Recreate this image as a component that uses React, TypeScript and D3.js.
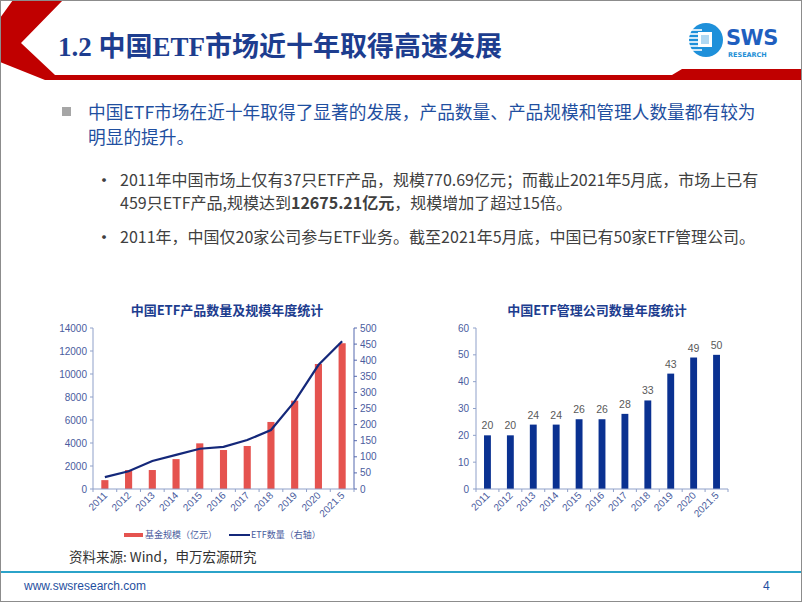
import React from "react";
import * as d3 from "d3";

const years = ["2011", "2012", "2013", "2014", "2015", "2016", "2017", "2018", "2019", "2020", "2021.5"];
const fundSize = [770.69, 1650, 1650, 2600, 3970, 3390, 3740, 5830, 7680, 10870, 12675.21];
const etfCount = [37, 55, 87, 106, 125, 131, 152, 183, 272, 385, 459];
const managerCount = [20, 20, 24, 24, 26, 26, 28, 33, 43, 49, 50];
const leftTicks = [0, 2000, 4000, 6000, 8000, 10000, 12000, 14000];
const rightTicks = [0, 50, 100, 150, 200, 250, 300, 350, 400, 450, 500];
const mgrTicks = [0, 10, 20, 30, 40, 50, 60];

const CJK = "'Noto Sans CJK SC', 'Noto Sans', sans-serif";
const AXIS_TXT = "#4A5C9E";
const AXIS_LINE = "#8FA0C9";

export default function App() {
  // Left chart scales
  const xL = d3.scaleBand<string>().domain(years).range([93, 354]).paddingInner(0.7).paddingOuter(0.35);
  const yL = d3.scaleLinear().domain([0, 14000]).range([489, 328]);
  const yR = d3.scaleLinear().domain([0, 500]).range([489, 328]);
  const stepL = xL.step();
  const line = d3
    .line<number>()
    .x((_, i) => (xL(years[i]) as number) + xL.bandwidth() / 2)
    .y((d) => yR(d));

  // Right chart scales
  const xM = d3.scaleBand<string>().domain(years).range([476, 728]).paddingInner(0.7).paddingOuter(0.35);
  const yM = d3.scaleLinear().domain([0, 60]).range([489, 328]);
  const stepM = xM.step();

  return (
    <svg
      width={802}
      height={602}
      style={{ position: "fixed", left: 0, top: 0, background: "#fff" }}
      fontFamily={CJK}
    >
      <rect x={0} y={0} width={802} height={602} fill="#fff" />
      {/* header */}
      <polygon
        points="13,0 63,0 21,43 55,75 672,75 682,69 802,69 802,80 45,80 0,62 0,18"
        fill="#C00000"
      />
      <text
        x={58}
        y={56}
        fontSize={27}
        fontWeight="bold"
        fill="#1D3D8F"
        fontFamily="'Liberation Serif', 'DejaVu Serif', 'Noto Sans CJK SC', serif"
      >
        1.2 中国ETF市场近十年取得高速发展
      </text>
      {/* logo */}
      <g>
        <circle cx={706} cy={40} r={17} fill="#1E90DA" />
        {[-10, -6, -2, 2, 6, 10].map((dy) => (
          <line key={dy} x1={689} x2={702} y1={40 + dy} y2={40 + dy} stroke="#fff" strokeWidth={1.6} />
        ))}
        <rect x={698} y={32} width={14} height={15} fill="#fff" />
        <rect x={701} y={35} width={8} height={9} fill="#1E90DA" opacity={0.35} />
        <text x={726} y={45} fontSize={21} fontWeight="bold" fill="#1F5FBF" fontFamily="'DejaVu Sans', sans-serif" letterSpacing={-0.5}>
          SWS
        </text>
        <text x={728} y={57} fontSize={6.5} fontWeight="bold" fill="#1E8FD6" fontFamily="'DejaVu Sans', sans-serif">
          RESEARCH
        </text>
      </g>

      {/* bullets */}
      <rect x={62} y={107} width={9} height={9} fill="#A6A6A6" />
      <text x={88} y={119} fontSize={17.7} fill="#1F4FA0">
        中国ETF市场在近十年取得了显著的发展，产品数量、产品规模和管理人数量都有较为
      </text>
      <text x={88} y={144} fontSize={17.7} fill="#1F4FA0">
        明显的提升。
      </text>
      <text x={95} y={187} fontSize={18} fill="#404040">•</text>
      <text x={120} y={186} fontSize={16} fill="#404040">
        2011年中国市场上仅有37只ETF产品，规模770.69亿元；而截止2021年5月底，市场上已有
      </text>
      <text x={120} y={209} fontSize={16} fill="#404040">
        459只ETF产品,规模达到<tspan fontWeight="bold">12675.21亿元</tspan>，规模增加了超过15倍。
      </text>
      <text x={95} y={244} fontSize={18} fill="#404040">•</text>
      <text x={120} y={243} fontSize={16} fill="#404040">
        2011年，中国仅20家公司参与ETF业务。截至2021年5月底，中国已有50家ETF管理公司。
      </text>

      {/* LEFT CHART */}
      <text x={227} y={315} fontSize={13} fontWeight="bold" fill="#1D3D8F" textAnchor="middle">
        中国ETF产品数量及规模年度统计
      </text>
      {years.map((y, i) => (
        <rect
          key={y}
          x={xL(y) as number}
          y={yL(fundSize[i])}
          width={xL.bandwidth()}
          height={yL(0) - yL(fundSize[i])}
          fill="#E5534F"
        />
      ))}
      {/* left axis */}
      <line x1={93} x2={93} y1={328} y2={489} stroke={AXIS_LINE} />
      {leftTicks.map((t) => (
        <g key={t}>
          <line x1={90} x2={93} y1={yL(t)} y2={yL(t)} stroke={AXIS_LINE} />
          <text x={87} y={yL(t) + 3.5} fontSize={10} fill={AXIS_TXT} textAnchor="end" fontFamily="'Liberation Sans', Arial, sans-serif">
            {t}
          </text>
        </g>
      ))}
      {/* right axis */}
      <line x1={354} x2={354} y1={328} y2={489} stroke="#5468AE" />
      {rightTicks.map((t) => (
        <g key={t}>
          <line x1={354} x2={357} y1={yR(t)} y2={yR(t)} stroke="#5468AE" />
          <text x={360} y={yR(t) + 3.5} fontSize={10} fill={AXIS_TXT} fontFamily="'Liberation Sans', Arial, sans-serif">
            {t}
          </text>
        </g>
      ))}
      {/* bottom axis */}
      <line x1={93} x2={354} y1={489} y2={489} stroke={AXIS_LINE} />
      {d3.range(years.length + 1).map((i) => (
        <line key={i} x1={93 + i * stepL} x2={93 + i * stepL} y1={489} y2={492} stroke={AXIS_LINE} />
      ))}
      {years.map((y) => {
        const cx = (xL(y) as number) + xL.bandwidth() / 2 + 3;
        return (
          <text
            key={y}
            transform={`translate(${cx},${496}) rotate(-45)`}
            fontSize={10}
            fill={AXIS_TXT}
            textAnchor="end"
            fontFamily="'Liberation Sans', Arial, sans-serif"
          >
            {y}
          </text>
        );
      })}
      <path d={line(etfCount) as string} fill="none" stroke="#14287A" strokeWidth={2.2} />
      {/* legend */}
      <rect x={124} y={533} width={19} height={4} fill="#E5534F" />
      <text x={145} y={538} fontSize={9} fill={AXIS_TXT}>基金规模（亿元）</text>
      <line x1={229} x2={250} y1={535} y2={535} stroke="#14287A" strokeWidth={2} />
      <text x={251} y={538} fontSize={9} fill={AXIS_TXT}>ETF数量（右轴）</text>

      {/* RIGHT CHART */}
      <text x={597} y={315} fontSize={13} fontWeight="bold" fill="#1D3D8F" textAnchor="middle">
        中国ETF管理公司数量年度统计
      </text>
      {years.map((y, i) => (
        <g key={y}>
          <rect
            x={xM(y) as number}
            y={yM(managerCount[i])}
            width={xM.bandwidth()}
            height={yM(0) - yM(managerCount[i])}
            fill="#0A3191"
          />
          <text
            x={(xM(y) as number) + xM.bandwidth() / 2}
            y={yM(managerCount[i]) - 6}
            fontSize={10.5}
            fill="#595959"
            textAnchor="middle"
            fontFamily="'Liberation Sans', Arial, sans-serif"
          >
            {managerCount[i]}
          </text>
        </g>
      ))}
      <line x1={476} x2={476} y1={328} y2={489} stroke={AXIS_LINE} />
      {mgrTicks.map((t) => (
        <g key={t}>
          <line x1={473} x2={476} y1={yM(t)} y2={yM(t)} stroke={AXIS_LINE} />
          <text x={469} y={yM(t) + 3.5} fontSize={10} fill={AXIS_TXT} textAnchor="end" fontFamily="'Liberation Sans', Arial, sans-serif">
            {t}
          </text>
        </g>
      ))}
      <line x1={476} x2={728} y1={489} y2={489} stroke={AXIS_LINE} />
      {d3.range(years.length + 1).map((i) => (
        <line key={i} x1={476 + i * stepM} x2={476 + i * stepM} y1={489} y2={492} stroke={AXIS_LINE} />
      ))}
      {years.map((y) => {
        const cx = (xM(y) as number) + xM.bandwidth() / 2 + 3;
        return (
          <text
            key={y}
            transform={`translate(${cx},${496}) rotate(-45)`}
            fontSize={10}
            fill={AXIS_TXT}
            textAnchor="end"
            fontFamily="'Liberation Sans', Arial, sans-serif"
          >
            {y}
          </text>
        );
      })}

      {/* source */}
      <text x={69} y={562} fontSize={13.5} fill="#333">资料来源: Wind，申万宏源研究</text>

      {/* footer */}
      <line x1={0} x2={802} y1={572} y2={572} stroke="#2BA3C9" strokeWidth={2} />
      <text x={24} y={590} fontSize={12} fill="#1F4FA0" fontFamily="'Liberation Sans', Arial, sans-serif">
        www.swsresearch.com
      </text>
      <text x={763} y={590} fontSize={12} fill="#1F4FA0" fontFamily="'Liberation Sans', Arial, sans-serif">
        4
      </text>
      <rect x={0.5} y={0.5} width={801} height={601} fill="none" stroke="#8C8C8C" />
    </svg>
  );
}
